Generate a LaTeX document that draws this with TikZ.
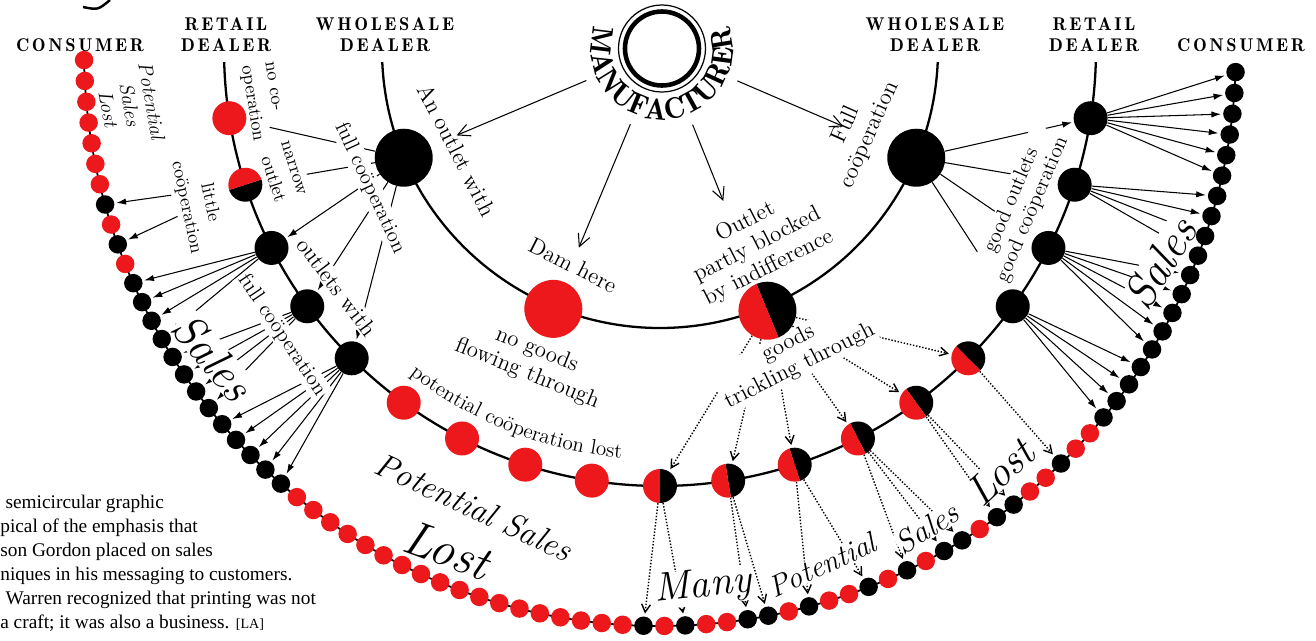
\documentclass[tikz,border=0pt]{standalone}
\usepackage{fontspec}
\usepackage{tikz}
\usetikzlibrary{
  arrows.meta,
  decorations.text,
  positioning
}
\newfontfamily\hdrfont[LetterSpace=14]{lmromandemi10-regular.otf}
\newfontfamily\demifont{lmromandemi10-regular.otf}
\newfontfamily\capfont{Liberation Serif}
\definecolor{dotred}{RGB}{236,24,28}
\colorlet{rd}{dotred}
\colorlet{bk}{black}
\pgfdeclarelayer{bg}
\pgfsetlayers{bg,main}

\begin{document}
\begin{tikzpicture}[
  x=0.02cm, y=0.02cm,
  hdr/.style={font=\hdrfont\fontsize{10.5}{12}\selectfont, align=center, inner sep=0pt},
  smalltxt/.style={font=\fontsize{10.5}{13.5}\selectfont, align=center, inner sep=1pt},
  midtxt/.style={font=\fontsize{12}{13}\selectfont, align=center, inner sep=1pt},
  bigtxt/.style={font=\fontsize{13}{14.5}\selectfont, align=center, inner sep=1pt},
  scripttxt/.style={font=\fontsize{#1}{#1}\selectfont\itshape, inner sep=0pt},
  cutout/.style={fill=white},
  rail/.style={line width=1.3pt},
  ring/.style={line width=1pt},
  cdot/.style={circle, inner sep=0pt, minimum size=0.37cm},
  rdot/.style={circle, inner sep=0pt, minimum size=0.68cm},
  wdot/.style={circle, inner sep=0pt, minimum size=1.16cm},
  split/.style={path picture={
    \fill[black] (path picture bounding box.center) -- ++(#1:1cm)
      arc[start angle=#1, end angle=#1+180, radius=1cm] -- cycle;
    \fill[dotred] (path picture bounding box.center) -- ++(#1+180:1cm)
      arc[start angle=#1+180, end angle=#1+360, radius=1cm] -- cycle;}},
  mfrarr/.style={-{Straight Barb[length=7pt,width=7pt]}, line width=0.6pt, shorten <=0.76cm},
  feed/.style={line width=0.6pt},
  fan/.style={-{Latex[length=5.5pt,width=3.6pt]}, line width=0.6pt, shorten >=1pt},
  trickle/.style={-{Straight Barb[length=4.5pt,width=5pt]}, line width=0.8pt,
                  dash pattern=on 0.8pt off 1pt, shorten >=1.5pt}
]
\useasboundingbox (-660,50) rectangle (656,-590);

% column heads
\node[hdr] (hc1) at (-580,5) {CONSUMER};
\node[hdr] (hr1) at (-434,15.5) {RETAIL\\DEALER};
\node[hdr] (hw1) at (-275,15.5) {WHOLESALE\\DEALER};
\node[hdr] (hw2) at (275,15.5) {WHOLESALE\\DEALER};
\node[hdr] (hr2) at (434,15.5) {RETAIL\\DEALER};
\node[hdr] (hc2) at (581,5) {CONSUMER};
\draw[line width=1.4pt] (-577,43) .. controls (-562,40) .. (-550,50);

% notes
\node[font=\fontsize{11.5}{12.5}\selectfont\itshape, align=center, rotate=-80] (lostup) at (-530,-55) {Potential\\Sales\\Lost};
\node[smalltxt, align=left, rotate=-81] (nocoop) at (-398,-52) {no co-\\operation};
\node[smalltxt, align=right, rotate=-72] (narrow) at (-378,-122) {narrow\\outlet};
\node[smalltxt, rotate=-78] (little) at (-462,-155) {little\\coöperation};
\node[midtxt, cutout, rotate=-65] (fullup) at (-290,-138) {full coöperation};
\node[bigtxt, rotate=-63] (anout) at (-203,-100) {An outlet with};
\node[bigtxt, cutout, rotate=-53] (outw) at (-323,-237) {outlets with};
\node[midtxt, cutout, rotate=-56] (fulllo) at (-378,-285) {full coöperation};
\node[scripttxt=26, cutout, rotate=-50] (salesl) at (-447,-307) {Sales};
\node[bigtxt, rotate=-27] (damtxt) at (-87,-215) {Dam here};
\node[bigtxt, rotate=27] (blktxt) at (97,-195) {Outlet\\partly blocked\\by indifference};
\node[bigtxt, rotate=66] (fulltxt) at (198,-80) {Full\\coöperation};
\node[midtxt, cutout, rotate=67] (goodtxt) at (362,-155) {good outlets\\good coöperation};
\node[scripttxt=26, cutout, rotate=58] (salesr) at (500,-213) {Sales};
\node[bigtxt, rotate=-22] (nogoods) at (-128,-312) {no goods\\flowing through};
\node[bigtxt, cutout, rotate=27] (goodsdn) at (134,-305) {goods\\trickling through};
\node[scripttxt=19, rotate=-25] (potl) at (-186,-457) {Potential Sales};
\node[scripttxt=28, rotate=-20] (lostl) at (-213,-500) {Lost};
\node[scripttxt=23, cutout, rotate=6] (many) at (43,-537) {Many};
\node[scripttxt=17, cutout, rotate=25] (potr) at (162,-515) {Potential};
\node[scripttxt=18, cutout, rotate=32] (salesb) at (267,-478) {Sales};
\node[scripttxt=24, cutout, rotate=43] (lostr) at (340,-422) {Lost};
\path[decorate, decoration={text along path, text align=center,
    text format delimiters={|}{|},
    text={|\fontsize{12}{14}\selectfont|potential coöperation lost}}]
  (-130:410) arc[start angle=-130, end angle=-93, radius=410];

\node[anchor=north west, align=left, inner sep=0pt,
      font=\capfont\fontsize{11}{13.66}\selectfont] (caption) at (-660,-445)
  {\hspace*{3pt}semicircular graphic\\pical of the emphasis that\\son Gordon placed on sales\\niques in his messaging to customers.\\\hspace*{3pt}Warren recognized that printing was not\\a craft; it was also a business. {\fontsize{8}{8}\selectfont[LA]}};

% manufacturer
\node[circle, draw, line width=0.7pt, minimum size=1.74cm, inner sep=0pt] (mfr) at (2,1.5) {};
\draw[line width=2.6pt] (mfr.center) circle[radius=37];
\path[decorate, decoration={text along path, text align=center,
    text format delimiters={|}{|},
    text={|\demifont\fontsize{17}{18}\selectfont|MANUFACTURER}}]
  ([shift={(2,1.5)}]150:71) arc[start angle=150, end angle=390, radius=71];

% wholesale dealers
\node[wdot, fill=black] (w1) at (-157.2:278) {};
\node[wdot, fill=dotred] (dam) at (-112.4:280) {};
\node[wdot, split=-67.6] (blk) at (-67.6:282) {};
\node[wdot, fill=black] (w2) at (-22.8:278) {};

% retail dealers
\node[rdot, fill=dotred] (r0) at (-171:436) {};
\node[rdot, split=-162] (r1) at (-162:436) {};
\foreach \k in {2,3,4}
  \node[rdot, fill=black] (r\k) at (-171+9*\k:436) {};
\foreach \k in {5,...,8}
  \node[rdot, fill=dotred] (r\k) at (-171+9*\k:436) {};
\foreach \k in {9,...,14} {
  \pgfmathsetmacro\ang{-171+9*\k}
  \node[rdot, split=\ang] (r\k) at (\ang:436) {};
}
\foreach \k in {15,...,18}
  \node[rdot, fill=black] (r\k) at (-171+9*\k:436) {};

% consumers
\foreach \col [count=\n] in {rd,rd,rd,rd,rd,rd,rd,bk,rd,bk,rd,
    bk,bk,bk,bk,bk,bk,bk,bk,bk,bk,bk,bk,bk,
    rd,rd,rd,rd,rd,rd,rd,rd,rd,rd,rd,rd,rd,rd,rd,rd,rd,rd,
    bk,rd,bk,rd,rd,bk,bk,rd,bk,rd,rd,bk,rd,bk,rd,bk,bk,rd,bk,bk,rd,rd,bk,rd,rd,
    bk,bk,bk,bk,bk,bk,bk,bk,bk,bk,bk,bk,bk,bk,bk,bk,bk,bk,bk} {
  \pgfmathsetmacro\ang{-179+2.08*(\n-1)}
  \node[cdot, fill=\col] (c\n) at (\ang:576) {};
}

\begin{pgfonlayer}{bg}
\draw[rail] (-177.5:278) arc[start angle=-177.5, end angle=-2.5, radius=278];
\draw[rail] (-178.4:436) arc[start angle=-178.4, end angle=-1.6, radius=436];
\draw[ring] (-179:576) arc[start angle=-179, end angle=-2.2, radius=576];

% from the manufacturer
\draw[mfrarr, shorten >=0.56cm] (mfr) -- (w1);
\draw[mfrarr, shorten >=0.74cm] (mfr) -- (dam);
\draw[mfrarr, shorten >=1.78cm] (mfr) -- (blk);
\draw[mfrarr, shorten >=1.0cm] (mfr) -- (w2);

% wholesale to retail
\draw[feed, shorten >=0.48cm] (w1) -- (r0);
\draw[feed, shorten >=0.9cm] (w1) -- (r1);
\foreach \k in {2,3,4}
  \draw[fan] (w1) -- (r\k);
\draw[fan] (w2) -- (r18);
\foreach \k in {15,16,17}
  \draw[feed, shorten >=0.5cm] (w2) -- (r\k);
\foreach \k in {9,...,14}
  \draw[trickle] (blk) -- (r\k);

% retail to consumer
\foreach \d in {8,10}
  \draw[fan, shorten <=1.15cm] (r1) -- (c\d);
\foreach \d in {12,...,15}
  \draw[fan] (r2) -- (c\d);
\foreach \d in {16,...,19}
  \draw[fan] (r3) -- (c\d);
\foreach \d in {20,...,24}
  \draw[fan] (r4) -- (c\d);
\foreach \d in {68,...,71}
  \draw[fan] (r15) -- (c\d);
\foreach \d in {72,...,76}
  \draw[fan] (r16) -- (c\d);
\foreach \d in {77,...,80}
  \draw[fan] (r17) -- (c\d);
\foreach \d in {81,...,86}
  \draw[fan] (r18) -- (c\d);
\foreach \s/\d in {9/43,9/45,10/48,10/49,11/51,11/54,12/56,12/58,12/59,13/61,13/62,14/65}
  \draw[trickle] (r\s) -- (c\d);
\end{pgfonlayer}
\end{tikzpicture}
\end{document}
